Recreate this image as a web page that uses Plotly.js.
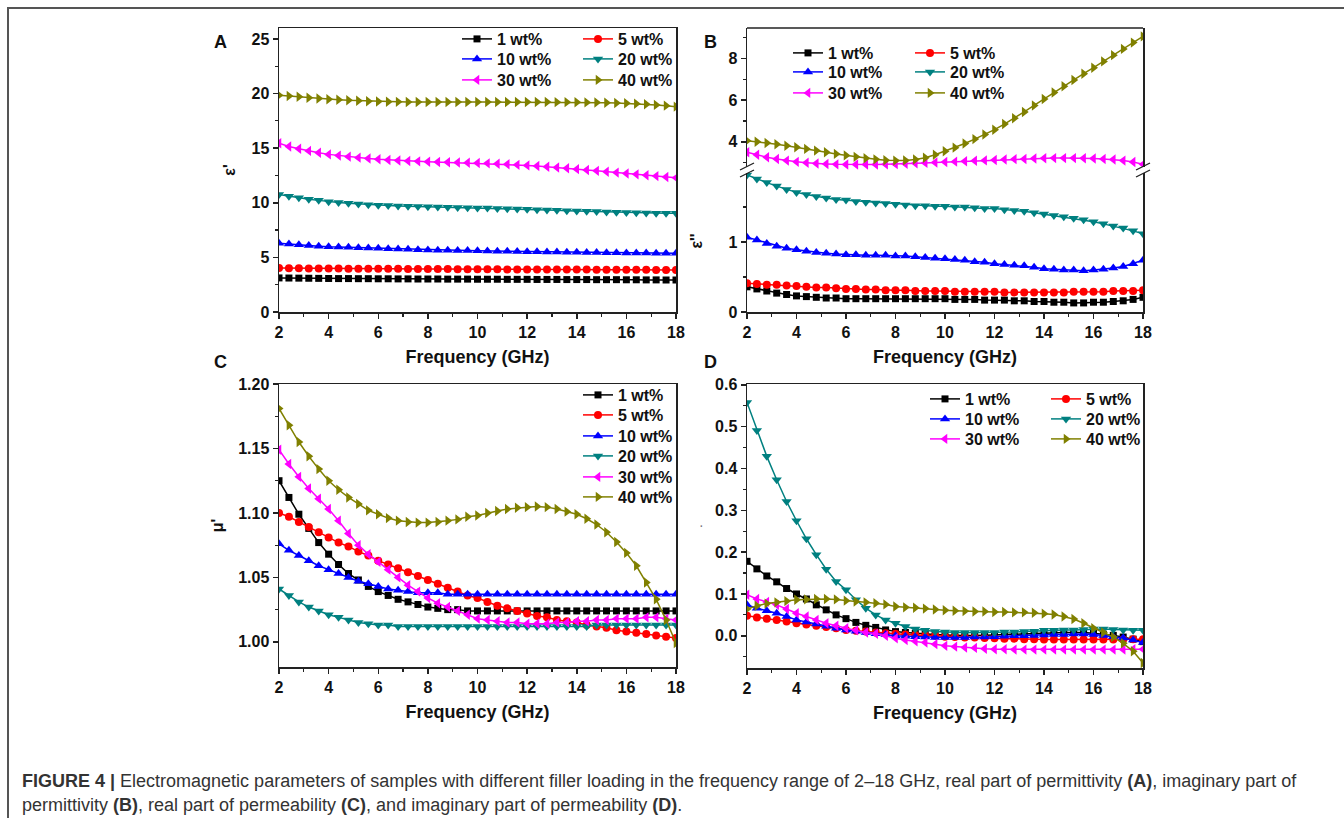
<!DOCTYPE html>
<html>
<head>
<meta charset="utf-8">
<script src="https://cdn.plot.ly/plotly-3.0.1.min.js"></script>
<style>html,body{margin:0;padding:0;background:#fff;}#chart{width:1344px;height:818px;}</style>
</head>
<body>
<div id="chart"></div>
<script>
// ---------------- DATA ----------------
const freq = [2.0,2.4,2.8,3.2,3.6,4.0,4.4,4.8,5.2,5.6,6.0,6.4,6.8,7.2,7.6,8.0,8.4,8.8,9.2,9.6,10.0,10.4,10.8,11.2,11.6,12.0,12.4,12.8,13.2,13.6,14.0,14.4,14.8,15.2,15.6,16.0,16.4,16.8,17.2,17.6,18.0];
const seriesNames = ["1 wt%","5 wt%","10 wt%","20 wt%","30 wt%","40 wt%"];
const xTickLabels = ["2","4","6","8","10","12","14","16","18"];
const xTickVals = [2,4,6,8,10,12,14,16,18];

// (A) real part of permittivity  ε'
const epsRe_1  = [3.12,3.11,3.10,3.09,3.08, 3.07,3.06,3.06,3.05,3.05, 3.04,3.04,3.03,3.03,3.02, 3.02,3.02,3.01,3.01,3.01, 3.00,3.00,3.00,2.99,2.99, 2.99,2.98,2.98,2.98,2.97, 2.97,2.97,2.96,2.96,2.96, 2.95,2.95,2.94,2.94,2.93, 2.93];
const epsRe_5  = [4.02,4.01,4.00,3.99,3.99, 3.98,3.98,3.97,3.97,3.96, 3.96,3.95,3.95,3.94,3.94, 3.93,3.93,3.93,3.92,3.92, 3.91,3.91,3.91,3.90,3.90, 3.90,3.89,3.89,3.89,3.88, 3.88,3.88,3.87,3.87,3.87, 3.86,3.86,3.86,3.85,3.85, 3.85];
const epsRe_10 = [6.30,6.22,6.15,6.09,6.03, 5.98,5.95,5.92,5.89,5.86, 5.83,5.80,5.77,5.74,5.71, 5.68,5.66,5.65,5.63,5.62, 5.60,5.59,5.57,5.56,5.54, 5.52,5.51,5.50,5.49,5.47, 5.46,5.45,5.44,5.43,5.42, 5.41,5.40,5.39,5.38,5.38, 5.37];
const epsRe_20 = [10.75,10.60,10.45,10.33,10.22, 10.10,10.02,9.95,9.89,9.83, 9.78,9.74,9.71,9.68,9.66, 9.63,9.61,9.59,9.57,9.55, 9.53,9.51,9.48,9.46,9.43, 9.40,9.37,9.34,9.31,9.28, 9.25,9.22,9.19,9.16,9.13, 9.10,9.08,9.06,9.05,9.04, 9.03];
const epsRe_30 = [15.45,15.15,14.95,14.75,14.58, 14.43,14.32,14.22,14.13,14.05, 13.98,13.92,13.87,13.83,13.79, 13.76,13.73,13.71,13.69,13.67, 13.64,13.61,13.57,13.52,13.47, 13.42,13.36,13.30,13.23,13.16, 13.08,13.00,12.92,12.84,12.76, 12.68,12.60,12.52,12.44,12.36, 12.28];
const epsRe_40 = [19.85,19.77,19.70,19.62,19.55, 19.48,19.43,19.38,19.34,19.30, 19.27,19.25,19.24,19.23,19.22, 19.22,19.22,19.22,19.22,19.22, 19.22,19.22,19.22,19.22,19.22, 19.22,19.22,19.22,19.21,19.21, 19.20,19.19,19.18,19.16,19.14, 19.11,19.07,19.02,18.96,18.89, 18.80];

// (B) imaginary part of permittivity  ε''
const epsIm_1  = [0.36,0.33,0.30,0.27,0.25, 0.23,0.22,0.21,0.20,0.20, 0.19,0.19,0.19,0.19,0.19, 0.19,0.19,0.19,0.19,0.19, 0.19,0.18,0.18,0.18,0.17, 0.17,0.17,0.16,0.16,0.15, 0.15,0.14,0.14,0.13,0.13, 0.14,0.14,0.15,0.16,0.18, 0.21];
const epsIm_5  = [0.41,0.40,0.39,0.39,0.38, 0.37,0.36,0.35,0.35,0.34, 0.33,0.33,0.32,0.32,0.31, 0.31,0.31,0.30,0.30,0.30, 0.30,0.29,0.29,0.29,0.29, 0.29,0.28,0.28,0.28,0.28, 0.28,0.28,0.28,0.29,0.29, 0.29,0.29,0.30,0.30,0.30, 0.31];
const epsIm_10 = [1.07,1.03,0.98,0.94,0.91, 0.89,0.87,0.85,0.84,0.83, 0.82,0.82,0.81,0.81,0.81, 0.80,0.80,0.79,0.78,0.77, 0.76,0.75,0.74,0.72,0.71, 0.69,0.68,0.67,0.66,0.64, 0.62,0.61,0.60,0.60,0.59, 0.60,0.61,0.63,0.65,0.69, 0.74];
const epsIm_20 = [1.96,1.90,1.85,1.80,1.75, 1.71,1.68,1.65,1.63,1.61, 1.60,1.58,1.57,1.56,1.55, 1.54,1.53,1.52,1.52,1.51, 1.51,1.50,1.50,1.49,1.48, 1.48,1.46,1.45,1.44,1.42, 1.40,1.38,1.36,1.34,1.32, 1.29,1.26,1.23,1.20,1.16, 1.12];
const epsIm_30 = [3.50,3.38,3.26,3.18,3.10, 3.04,3.00,2.96,2.94,2.92, 2.91,2.91,2.91,2.91,2.92, 2.93,2.95,2.97,2.99,3.01, 3.03,3.05,3.07,3.09,3.11, 3.13,3.15,3.17,3.18,3.20, 3.21,3.22,3.22,3.22,3.21, 3.20,3.18,3.15,3.10,3.03, 2.92];
const epsIm_40 = [4.05,4.00,3.94,3.88,3.81, 3.74,3.66,3.58,3.50,3.42, 3.35,3.28,3.21,3.16,3.12, 3.10,3.11,3.15,3.24,3.38, 3.55,3.72,3.92,4.13,4.35, 4.58,4.85,5.13,5.43,5.74, 6.05,6.36,6.66,6.96,7.26, 7.55,7.85,8.15,8.45,8.75, 9.05];

// (C) real part of permeability  μ'
const muRe_1  = [1.125,1.112,1.099,1.088,1.077, 1.068,1.060,1.053,1.048,1.043, 1.039,1.036,1.033,1.031,1.029, 1.027,1.026,1.025,1.025,1.024, 1.024,1.024,1.024,1.024,1.024, 1.024,1.024,1.024,1.024,1.024, 1.024,1.024,1.024,1.024,1.024, 1.024,1.024,1.024,1.024,1.024, 1.024];
const muRe_5  = [1.100,1.097,1.093,1.089,1.085, 1.081,1.077,1.074,1.070,1.067, 1.063,1.060,1.057,1.054,1.051, 1.048,1.045,1.042,1.039,1.036, 1.034,1.031,1.028,1.026,1.024, 1.022,1.020,1.019,1.017,1.016, 1.015,1.013,1.012,1.011,1.009, 1.008,1.007,1.006,1.005,1.004, 1.003];
const muRe_10 = [1.076,1.071,1.067,1.063,1.059, 1.056,1.053,1.050,1.047,1.045, 1.043,1.041,1.040,1.039,1.038, 1.038,1.038,1.037,1.037,1.037, 1.037,1.037,1.037,1.037,1.037, 1.037,1.037,1.037,1.037,1.037, 1.037,1.037,1.037,1.037,1.037, 1.037,1.037,1.037,1.037,1.037, 1.037];
const muRe_20 = [1.041,1.036,1.031,1.027,1.024, 1.021,1.019,1.017,1.015,1.014, 1.013,1.013,1.012,1.012,1.012, 1.012,1.012,1.012,1.012,1.012, 1.012,1.012,1.012,1.012,1.012, 1.012,1.012,1.012,1.012,1.012, 1.012,1.012,1.013,1.013,1.013, 1.013,1.013,1.013,1.013,1.013, 1.013];
const muRe_30 = [1.149,1.138,1.128,1.119,1.111, 1.103,1.094,1.084,1.075,1.068, 1.062,1.056,1.050,1.044,1.039, 1.034,1.030,1.027,1.024,1.021, 1.018,1.017,1.016,1.015,1.015, 1.014,1.014,1.014,1.015,1.015, 1.016,1.016,1.017,1.017,1.018, 1.018,1.018,1.019,1.019,1.018, 1.017];
const muRe_40 = [1.181,1.168,1.155,1.144,1.134, 1.125,1.118,1.112,1.107,1.102, 1.099,1.096,1.094,1.093,1.0925, 1.0925,1.093,1.094,1.095,1.097, 1.098,1.100,1.1015,1.103,1.104, 1.1045,1.105,1.1045,1.103,1.101, 1.099,1.0955,1.091,1.085,1.0775, 1.069,1.059,1.046,1.033,1.017, 0.999];

// (D) imaginary part of permeability  μ''
const muIm_1  = [0.178,0.160,0.143,0.129,0.113, 0.100,0.088,0.074,0.062,0.050, 0.041,0.032,0.025,0.020,0.014, 0.010,0.008,0.006,0.005,0.003, 0.002,0.001,0.001,0.001,0.001, 0.002,0.003,0.004,0.005,0.005, 0.006,0.007,0.008,0.008,0.008, 0.006,0.004,0.001,-0.003,-0.008, -0.014];
const muIm_5  = [0.048,0.044,0.041,0.038,0.034, 0.030,0.027,0.024,0.021,0.018, 0.014,0.012,0.010,0.008,0.006, 0.005,0.003,0.002,0.001,0.000, -0.002,-0.003,-0.004,-0.004,-0.005, -0.006,-0.007,-0.007,-0.008,-0.008, -0.009,-0.009,-0.009,-0.009,-0.009, -0.009,-0.009,-0.009,-0.009,-0.008, -0.008];
const muIm_10 = [0.074,0.066,0.060,0.054,0.046, 0.038,0.033,0.028,0.023,0.018, 0.014,0.011,0.008,0.005,0.003, 0.000,-0.001,-0.002,-0.003,-0.004, -0.004,-0.004,-0.004,-0.003,-0.003, -0.002,-0.001,0.000,0.000,0.001, 0.002,0.003,0.003,0.004,0.004, 0.003,0.001,-0.002,-0.005,-0.010, -0.016];
const muIm_20 = [0.558,0.491,0.429,0.373,0.321, 0.275,0.232,0.194,0.159,0.130, 0.110,0.086,0.066,0.050,0.038, 0.030,0.022,0.016,0.013,0.010, 0.009,0.008,0.008,0.008,0.008, 0.008,0.009,0.009,0.010,0.011, 0.013,0.013,0.014,0.014,0.015, 0.016,0.016,0.015,0.014,0.013, 0.013];
const muIm_30 = [0.098,0.088,0.081,0.074,0.064, 0.054,0.046,0.038,0.030,0.024, 0.018,0.013,0.008,0.005,0.000, -0.006,-0.010,-0.013,-0.016,-0.020, -0.024,-0.026,-0.028,-0.029,-0.031, -0.032,-0.032,-0.033,-0.033,-0.033, -0.033,-0.033,-0.033,-0.033,-0.033, -0.033,-0.033,-0.033,-0.033,-0.032, -0.032];
const muIm_40 = [0.064,0.072,0.077,0.080,0.083, 0.086,0.087,0.088,0.088,0.087, 0.084,0.082,0.080,0.078,0.075, 0.070,0.068,0.067,0.065,0.063, 0.061,0.060,0.059,0.058,0.058, 0.057,0.057,0.056,0.056,0.055, 0.053,0.051,0.046,0.040,0.030, 0.018,0.008,-0.003,-0.018,-0.037, -0.065];

// ---------------- STYLE ----------------
const colors  = ["#000000","#ff0000","#0000ff","#008080","#ff00ff","#808000"];
const symbols = ["square","circle","triangle-up","triangle-down","triangle-left","triangle-right"];
const msize   = [7,8,9,9,9,9];
const FONT = "Liberation Sans, Arial, Helvetica, sans-serif";
const W = 1344, H = 818;
const PX = x => x / W;
const PY = y => 1 - y / H;

const layout = {
  width: W, height: H,
  margin: {l: 0, r: 0, t: 0, b: 0},
  paper_bgcolor: "#fff", plot_bgcolor: "#fff",
  font: {family: FONT, color: "#111"},
  hovermode: false,
  showlegend: true
};

// one legend per entry so that rows/columns sit exactly like the original
const legFont = {family: FONT, size: 16, weight: "bold", color: "#111"};
let legCount = 0;
function newLegend(xpx, rowCenterPx) {
  legCount += 1;
  const key = legCount === 1 ? "legend" : "legend" + legCount;
  layout[key] = {x: PX(xpx), y: PY(rowCenterPx - 17), xref: "paper", yref: "paper",
    xanchor: "left", yanchor: "top", bgcolor: "rgba(0,0,0,0)", borderwidth: 0, visible: true,
    font: legFont, tracegroupgap: 0, itemclick: false, itemdoubleclick: false};
  return key;
}

function trace(y, k, xa, ya, legX, legY) {
  return {
    x: freq, y: y, xaxis: xa, yaxis: ya, legend: newLegend(legX, legY), showlegend: true,
    name: seriesNames[k], mode: "lines+markers", type: "scatter",
    line: {color: colors[k], width: 1.5},
    marker: {symbol: symbols[k], size: msize[k], color: colors[k], line: {width: 0}},
    hoverinfo: "skip"
  };
}

const data = [
  // A
  trace(epsRe_1, 0, "x", "y", 457, 39),
  trace(epsRe_5, 1, "x", "y", 578, 39),
  trace(epsRe_10, 2, "x", "y", 457, 59),
  trace(epsRe_20, 3, "x", "y", 578, 59),
  trace(epsRe_30, 4, "x", "y", 457, 80),
  trace(epsRe_40, 5, "x", "y", 578, 80),
  // B (broken axis: lower y3, upper y2)
  trace(epsIm_1, 0, "x2", "y3", 788, 53),
  trace(epsIm_5, 1, "x2", "y3", 910, 53),
  trace(epsIm_10, 2, "x2", "y3", 788, 72),
  trace(epsIm_20, 3, "x2", "y3", 910, 72),
  trace(epsIm_30, 4, "x2", "y2", 788, 93),
  trace(epsIm_40, 5, "x2", "y2", 910, 93),
  // C
  trace(muRe_1, 0, "x3", "y4", 578, 395),
  trace(muRe_5, 1, "x3", "y4", 578, 415),
  trace(muRe_10, 2, "x3", "y4", 578, 436),
  trace(muRe_20, 3, "x3", "y4", 578, 456),
  trace(muRe_30, 4, "x3", "y4", 578, 477),
  trace(muRe_40, 5, "x3", "y4", 578, 497),
  // D
  trace(muIm_1, 0, "x4", "y5", 925, 399),
  trace(muIm_5, 1, "x4", "y5", 1046, 399),
  trace(muIm_10, 2, "x4", "y5", 925, 419),
  trace(muIm_20, 3, "x4", "y5", 1046, 419),
  trace(muIm_30, 4, "x4", "y5", 925, 439),
  trace(muIm_40, 5, "x4", "y5", 1046, 439)
];

const tickFont = {family: FONT, size: 16, weight: "bold", color: "#111"};
const titleFont = {family: FONT, size: 18, weight: "bold", color: "#111"};
const yTitleFont = {family: FONT, size: 16, weight: "bold", color: "#111"};
function baseAxis(extra) {
  return Object.assign({
    showline: true, linecolor: "#222", linewidth: 1.5, mirror: true,
    ticks: "outside", ticklen: 5, tickwidth: 1.5, tickcolor: "#222",
    showgrid: false, zeroline: false, tickfont: tickFont, fixedrange: true,
    automargin: false
  }, extra);
}
function xAx(domain, anchor, extra) {
  return baseAxis(Object.assign({
    domain: domain, anchor: anchor, range: [2, 18],
    tickmode: "array", tickvals: xTickVals, ticktext: xTickLabels,
    minor: {tickmode: "array", tickvals: [3,5,7,9,11,13,15,17], ticks: "outside", ticklen: 3, tickwidth: 1.2, tickcolor: "#222"},
    title: {text: "Frequency (GHz)", font: titleFont, standoff: 10}
  }, extra || {}));
}

const xL = [PX(279), PX(676)], xR = [PX(747), PX(1143)];
const yTop = [PY(312), PY(28)], yBot = [PY(667), PY(384)];
const brk = 170;

Object.assign(layout, {
  xaxis: xAx(xL, "y"),
  yaxis: baseAxis({domain: yTop, anchor: "x", range: [0, 26], dtick: 5, tick0: 0,
    minor: {dtick: 2.5, ticks: "outside", ticklen: 3, tickwidth: 1.2, tickcolor: "#222"},
    title: {text: "ε'", font: yTitleFont, standoff: 12}}),
  xaxis2: xAx(xR, "y3", {mirror: false}),
  yaxis2: baseAxis({domain: [PY(brk), PY(28)], anchor: "x2", range: [2.65, 9.45],
    tickmode: "array", tickvals: [4, 6, 8],
    minor: {tickmode: "array", tickvals: [3, 5, 7, 9], ticks: "outside", ticklen: 3, tickwidth: 1.2, tickcolor: "#222"}}),
  yaxis3: baseAxis({domain: [PY(312), PY(brk)], anchor: "x2", range: [0, 2.03],
    tickmode: "array", tickvals: [0, 1],
    minor: {tickmode: "array", tickvals: [0.5, 1.5], ticks: "outside", ticklen: 3, tickwidth: 1.2, tickcolor: "#222"},
    title: {text: "ε''", font: yTitleFont, standoff: 22}}),
  xaxis3: xAx(xL, "y4"),
  yaxis4: baseAxis({domain: yBot, anchor: "x3", range: [0.9805, 1.2], dtick: 0.05, tick0: 1, tickformat: ".2f",
    minor: {dtick: 0.025, ticks: "outside", ticklen: 3, tickwidth: 1.2, tickcolor: "#222"},
    title: {text: "μ'", font: yTitleFont, standoff: 10}}),
  xaxis4: xAx(xR, "y5"),
  yaxis5: baseAxis({domain: [PY(668), PY(384)], anchor: "x4", range: [-0.077, 0.602], dtick: 0.1, tick0: 0, tickformat: ".1f",
    minor: {dtick: 0.05, ticks: "outside", ticklen: 3, tickwidth: 1.2, tickcolor: "#222"},
    title: {text: ".", font: {family: FONT, size: 12, color: "#333"}, standoff: 10}}),
  shapes: [
    // figure frame (top and left)
    {type: "line", xref: "paper", yref: "paper", x0: PX(7), x1: PX(1344), y0: PY(8), y1: PY(8), line: {color: "#555", width: 2}},
    {type: "line", xref: "paper", yref: "paper", x0: PX(8), x1: PX(8), y0: PY(8), y1: PY(818), line: {color: "#555", width: 2}},
    // panel B top border
    {type: "line", xref: "paper", yref: "paper", x0: xR[0], x1: xR[1], y0: PY(28), y1: PY(28), line: {color: "#222", width: 1.5}},
    // axis break marks for panel B
    {type: "rect", xref: "paper", yref: "paper", x0: PX(743), x1: PX(751), y0: PY(173), y1: PY(167), fillcolor: "#fff", line: {width: 0}},
    {type: "rect", xref: "paper", yref: "paper", x0: PX(1139), x1: PX(1147), y0: PY(173), y1: PY(167), fillcolor: "#fff", line: {width: 0}},
    {type: "line", xref: "paper", yref: "paper", x0: PX(740), x1: PX(754), y0: PY(170), y1: PY(163), line: {color: "#222", width: 1.3}},
    {type: "line", xref: "paper", yref: "paper", x0: PX(740), x1: PX(754), y0: PY(177), y1: PY(170), line: {color: "#222", width: 1.3}},
    {type: "line", xref: "paper", yref: "paper", x0: PX(1136), x1: PX(1150), y0: PY(170), y1: PY(163), line: {color: "#222", width: 1.3}},
    {type: "line", xref: "paper", yref: "paper", x0: PX(1136), x1: PX(1150), y0: PY(177), y1: PY(170), line: {color: "#222", width: 1.3}}
  ],
  annotations: [
    {text: "<b>A</b>", x: PX(220), y: PY(42), xref: "paper", yref: "paper", xanchor: "center", yanchor: "middle", showarrow: false, font: {family: FONT, size: 18, color: "#111"}},
    {text: "<b>B</b>", x: PX(710), y: PY(42), xref: "paper", yref: "paper", xanchor: "center", yanchor: "middle", showarrow: false, font: {family: FONT, size: 18, color: "#111"}},
    {text: "<b>C</b>", x: PX(220), y: PY(362), xref: "paper", yref: "paper", xanchor: "center", yanchor: "middle", showarrow: false, font: {family: FONT, size: 18, color: "#111"}},
    {text: "<b>D</b>", x: PX(710), y: PY(362), xref: "paper", yref: "paper", xanchor: "center", yanchor: "middle", showarrow: false, font: {family: FONT, size: 18, color: "#111"}},
    {text: "<b>FIGURE 4 |</b> Electromagnetic parameters of samples with different filler loading in the frequency range of 2–18 GHz, real part of permittivity <b>(A)</b>, imaginary part of",
     x: PX(20), y: PY(781), xref: "paper", yref: "paper", xanchor: "left", yanchor: "middle", showarrow: false, font: {family: FONT, size: 18, color: "#333"}},
    {text: "permittivity <b>(B)</b>, real part of permeability <b>(C)</b>, and imaginary part of permeability <b>(D)</b>.",
     x: PX(20), y: PY(805), xref: "paper", yref: "paper", xanchor: "left", yanchor: "middle", showarrow: false, font: {family: FONT, size: 18, color: "#333"}}
  ]
});

Plotly.newPlot("chart", data, layout, {displayModeBar: false, staticPlot: true});
</script>
</body>
</html>
